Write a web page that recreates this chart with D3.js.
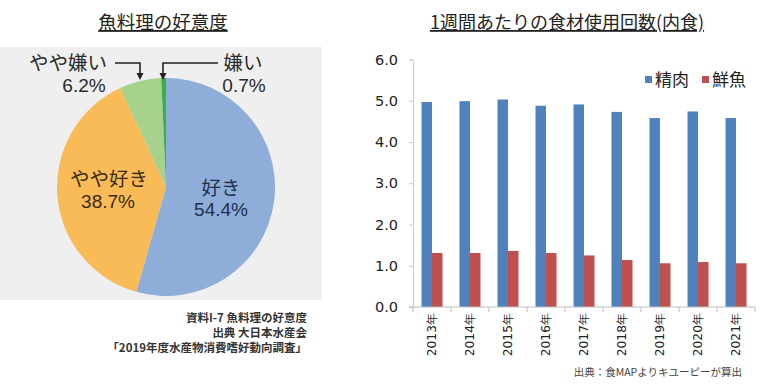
<!DOCTYPE html>
<html>
<head>
<meta charset="utf-8">
<script src="https://cdn.jsdelivr.net/npm/d3@7"></script>
<style>
  body { margin: 0; background: #fff; }
  svg { display: block; }
  text { font-family: "Noto Sans CJK JP", "Noto Sans", sans-serif; }
  text.pct { font-family: "Liberation Sans", Arial, sans-serif; }
  text.num { font-family: "DejaVu Sans", Verdana, sans-serif; }
</style>
</head>
<body>
<div id="chart"></div>
<script>
// Pie data
const pieLabels = ['好き', 'やや好き', 'やや嫌い', '嫌い'];
const pieValues = [54.4, 38.7, 6.2, 0.7];
const pieColors = ['#8fadd9', '#f8bb57', '#a7d28c', '#3bb04a'];

// Bar data
const years = ['2013年', '2014年', '2015年', '2016年', '2017年', '2018年', '2019年', '2020年', '2021年'];
const series = ['精肉', '鮮魚'];
const meat = [4.97, 4.99, 5.03, 4.88, 4.91, 4.73, 4.58, 4.74, 4.58];
const fish = [1.31, 1.31, 1.36, 1.31, 1.25, 1.14, 1.06, 1.09, 1.06];
const yTicks = [0, 1, 2, 3, 4, 5, 6];
const barColors = ['#4f81bd', '#c0504d'];

const W = 764, H = 385;
const svg = d3.select('#chart').append('svg')
    .attr('width', W).attr('height', H);

// ---------- left: pie ----------
svg.append('rect')
    .attr('x', 0).attr('y', 47).attr('width', 322).attr('height', 253)
    .attr('fill', '#efefef');

svg.append('text')
    .attr('x', 163).attr('y', 29)
    .attr('text-anchor', 'middle')
    .attr('font-size', 18.5)
    .attr('fill', '#222')
    .style('text-decoration', 'underline')
    .text('魚料理の好意度');

const cx = 166, cy = 187, r = 109;
const pie = d3.pie().sort(null).value(d => d.v);
const arc = d3.arc().innerRadius(0).outerRadius(r);
const pieData = pieLabels.map((l, i) => ({label: l, v: pieValues[i], color: pieColors[i]}));

const pg = svg.append('g').attr('transform', `translate(${cx},${cy})`);
pg.selectAll('path')
    .data(pie(pieData))
    .enter().append('path')
    .attr('d', arc)
    .attr('fill', d => d.data.color);

// labels
const inner = [
    {t: '好き', x: 221, y: 195, c: '#22304a'},
    {t: '54.4%', x: 221, y: 216, pct: true, c: '#22304a'},
    {t: 'やや好き', x: 109, y: 186, c: '#3a2a12'},
    {t: '38.7%', x: 108, y: 208, pct: true, c: '#3a2a12'},
    {t: 'やや嫌い', x: 68, y: 70, c: '#2a2a2a'},
    {t: '6.2%', x: 84, y: 92, pct: true, c: '#2a2a2a'},
    {t: '嫌い', x: 243, y: 70, c: '#2a2a2a'},
    {t: '0.7%', x: 244, y: 92, pct: true, c: '#2a2a2a'},
];
svg.append('g').selectAll('text')
    .data(inner)
    .enter().append('text')
    .attr('class', d => d.pct ? 'pct' : null)
    .attr('x', d => d.x).attr('y', d => d.y)
    .attr('text-anchor', 'middle')
    .attr('font-size', d => d.pct ? 19 : 19.5)
    .attr('fill', d => d.c)
    .text(d => d.t);

// leader lines with arrows
const leaders = [
    {pts: [[115, 63], [140, 63], [140, 73]]},
    {pts: [[218, 63], [163, 63], [163, 73]]},
];
const lg = svg.append('g');
leaders.forEach(l => {
    lg.append('path')
        .attr('d', d3.line()(l.pts))
        .attr('fill', 'none').attr('stroke', '#222').attr('stroke-width', 1.6);
    const [ax, ay] = l.pts[2];
    lg.append('path')
        .attr('d', `M${ax - 3.5},${ay} L${ax + 3.5},${ay} L${ax},${ay + 7} Z`)
        .attr('fill', '#222');
});

// source notes
const notes = ['資料I-7 魚料理の好意度', '出典 大日本水産会', '「2019年度水産物消費嗜好動向調査」'];
svg.append('g').selectAll('text')
    .data(notes)
    .enter().append('text')
    .attr('x', 307).attr('y', (d, i) => 322 + i * 15)
    .attr('text-anchor', 'end')
    .attr('font-size', 11.5)
    .attr('font-weight', 'bold')
    .attr('fill', '#333')
    .text(d => d);

// ---------- right: grouped bars ----------
svg.append('text')
    .attr('x', 567).attr('y', 29)
    .attr('text-anchor', 'middle')
    .attr('font-size', 18)
    .attr('fill', '#222')
    .style('text-decoration', 'underline')
    .text('1週間あたりの食材使用回数(内食)');

const x0 = d3.scaleBand().domain(years).range([413, 755]).paddingInner(0);
const x1 = d3.scaleBand().domain(series).range([0, x0.bandwidth()]).paddingInner(0).paddingOuter(0.81);
const y = d3.scaleLinear().domain([0, 6]).range([307, 59.5]);

const rows = years.map((yr, i) => ({year: yr, vals: [meat[i], fish[i]]}));

// y axis
const yAxis = svg.append('g')
    .attr('transform', 'translate(413,0)')
    .call(d3.axisLeft(y).tickValues(yTicks).tickFormat(d3.format('.1f')).tickSize(4).tickPadding(11));
yAxis.select('.domain').attr('stroke', '#d0d0d0').attr('stroke-width', 1.2);
yAxis.selectAll('.tick line').attr('stroke', '#c8c8c8');
yAxis.selectAll('.tick text')
    .attr('class', 'num')
    .attr('font-size', 14.5).attr('fill', '#222');

// bars
const grp = svg.append('g').selectAll('g')
    .data(rows)
    .enter().append('g')
    .attr('transform', d => `translate(${x0(d.year)},0)`);
grp.selectAll('rect')
    .data(d => d.vals.map((v, j) => ({s: series[j], v, c: barColors[j]})))
    .enter().append('rect')
    .attr('x', d => x1(d.s))
    .attr('y', d => y(d.v))
    .attr('width', x1.bandwidth())
    .attr('height', d => y(0) - y(d.v))
    .attr('fill', d => d.c);

// x axis
const xAxis = svg.append('g')
    .attr('transform', 'translate(0,307)')
    .call(d3.axisBottom(x0).tickSize(0).tickPadding(6));
xAxis.select('.domain').attr('d', 'M409,0H755').attr('stroke', '#bdbdbd').attr('stroke-width', 1.2);
xAxis.selectAll('.tick text')
    .attr('class', 'num')
    .attr('font-size', 12.3).attr('fill', '#222')
    .attr('transform', 'rotate(-90)')
    .attr('text-anchor', 'end')
    .attr('x', -6).attr('y', 0).attr('dy', '0.35em');
// boundary ticks between categories
xAxis.append('g').selectAll('line')
    .data(years.concat(['end']))
    .enter().append('line')
    .attr('x1', (d, i) => 413 + i * x0.step()).attr('x2', (d, i) => 413 + i * x0.step())
    .attr('y1', 0).attr('y2', 5)
    .attr('stroke', '#bdbdbd');

// legend
const leg = svg.append('g').attr('transform', 'translate(645,80)');
const legX = [0, 57];
series.forEach((s, i) => {
    leg.append('rect')
        .attr('x', legX[i]).attr('y', -4).attr('width', 7).attr('height', 7)
        .attr('fill', barColors[i]);
    leg.append('text')
        .attr('x', legX[i] + 10).attr('y', 6)
        .attr('font-size', 17).attr('fill', '#222')
        .text(s);
});

// source
svg.append('text')
    .attr('x', 742).attr('y', 376)
    .attr('text-anchor', 'end')
    .attr('font-size', 10.5).attr('fill', '#444')
    .text('出典：食MAPよりキユーピーが算出');
</script>
</body>
</html>
